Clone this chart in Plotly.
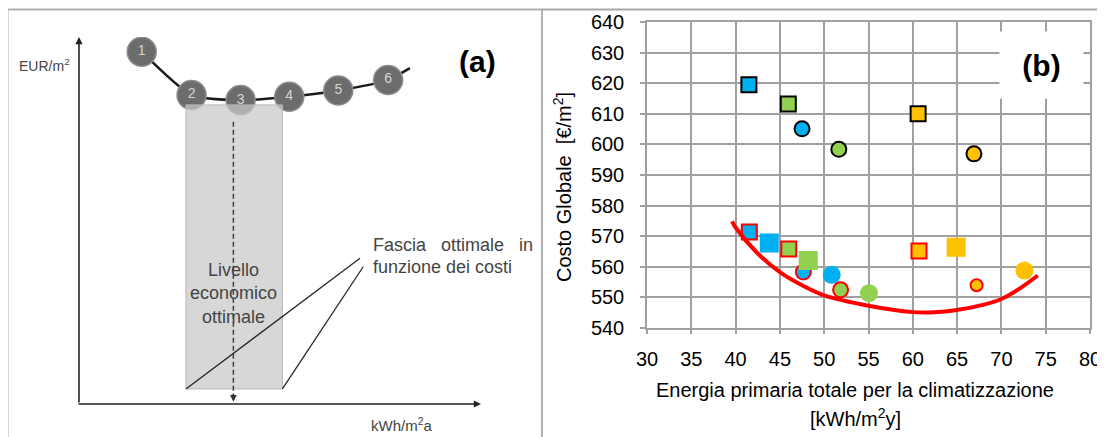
import plotly.graph_objects as go

# The page body adds an 8px offset, so the figure is drawn 8px smaller
# and every layout position is expressed in window pixels minus 8.
OFF = 8
W, H = 1105 - OFF, 437 - OFF
FONT = "Liberation Sans, Arial, sans-serif"

# ---------------- Panel (a): schematic cost-optimal curve ----------------
a_labels = ["1", "2", "3", "4", "5", "6"]
a_energy = [15.6, 28.0, 40.2, 52.3, 64.5, 76.9]
a_cost = [96.0, 84.2, 82.8, 83.7, 85.4, 88.3]
a_tail_energy = [82.3]
a_tail_cost = [91.5]
a_band = [26.6, 50.6]      # fascia ottimale in funzione dei costi
a_optimum = 38.4           # livello economico ottimale

# ---------------- Panel (b): costo globale vs energia primaria ----------------
# order inside each list: black outline, red outline, no outline
b_blue_sq_x = [41.5, 41.55, 43.8]
b_blue_sq_y = [619.5, 571.3, 567.7]
b_blue_ci_x = [47.5, 47.65, 50.85]
b_blue_ci_y = [605.1, 558.2, 557.3]
b_green_sq_x = [45.95, 46.0, 48.2]
b_green_sq_y = [613.2, 565.8, 562.0]
b_green_ci_x = [51.65, 51.85, 55.05]
b_green_ci_y = [598.4, 552.4, 551.3]
b_yellow_sq_x = [60.6, 60.7, 64.9]
b_yellow_sq_y = [610.0, 565.1, 566.3]
b_yellow_ci_x = [66.9, 67.2, 72.6]
b_yellow_ci_y = [596.9, 553.9, 558.7]

b_trend_x = [39.6, 40.0, 42.5, 45.0, 47.5, 50.0, 55.0, 60.0, 62.0, 65.0, 70.0, 74.1]
b_trend_y = [574.8, 572.8, 564.3, 558.2, 553.9, 550.6, 547.2, 545.1, 545.0, 545.8, 549.4, 557.1]

x_ticks = [30, 35, 40, 45, 50, 55, 60, 65, 70, 75, 80]
y_ticks = [540, 550, 560, 570, 580, 590, 600, 610, 620, 630, 640]

BLUE, GREEN, YELLOW, RED = "#00B0F0", "#92D050", "#FFC000", "#FF0000"


def px(x):
    return (x - OFF) / W


def py(y):
    return 1 - (y - OFF) / H


fig = go.Figure()

# ---- panel (a) traces
fig.add_trace(go.Scatter(
    x=a_energy + a_tail_energy, y=a_cost + a_tail_cost,
    xaxis="x2", yaxis="y2", mode="lines",
    line=dict(color="#1a1a1a", width=2.5, shape="spline", smoothing=0.6),
    hoverinfo="skip", showlegend=False))
fig.add_trace(go.Scatter(
    x=a_energy, y=a_cost, xaxis="x2", yaxis="y2", mode="markers+text",
    text=a_labels, textposition="middle center",
    textfont=dict(family=FONT, size=14, color="#d5d5d5"),
    marker=dict(size=29, color="#6c6c6c", line=dict(color="#8c8c8c", width=1.5)),
    hoverinfo="skip", showlegend=False))

# ---- panel (b) traces
line_cols = ["black", RED, "rgba(0,0,0,0)"]
line_w = [2, 2, 0]
sq_sizes = [15, 15, 19]
ci_sizes = [15, 15, 18]
groups = [
    (b_blue_sq_x, b_blue_sq_y, BLUE, "square", sq_sizes),
    (b_blue_ci_x, b_blue_ci_y, BLUE, "circle", ci_sizes),
    (b_green_sq_x, b_green_sq_y, GREEN, "square", sq_sizes),
    (b_green_ci_x, b_green_ci_y, GREEN, "circle", ci_sizes),
    (b_yellow_sq_x, b_yellow_sq_y, YELLOW, "square", sq_sizes),
    (b_yellow_ci_x, b_yellow_ci_y, YELLOW, "circle", [15, 12, 18]),
]
for gx, gy, col, sym, sizes in groups:
    fig.add_trace(go.Scatter(
        x=gx, y=gy, mode="markers", xaxis="x", yaxis="y",
        marker=dict(symbol=sym, color=col, size=sizes, opacity=1,
                    line=dict(color=line_cols, width=line_w)),
        showlegend=False))

fig.add_trace(go.Scatter(
    x=b_trend_x, y=b_trend_y, mode="lines", xaxis="x", yaxis="y",
    line=dict(color=RED, width=4, shape="spline", smoothing=1.0),
    showlegend=False))

# ---- shapes
shapes = [
    dict(type="rect", xref="paper", yref="paper", x0=px(7.5), x1=px(542),
         y0=-0.2, y1=py(9.5), line=dict(color="#b0b0b0", width=2), layer="below"),
    dict(type="line", xref="paper", yref="paper", x0=px(542), x1=1.05,
         y0=py(9.5), y1=py(9.5), line=dict(color="#a8a8a8", width=2)),
    dict(type="rect", xref="x2", yref="y2", x0=a_band[0], x1=a_band[1],
         y0=4.1, y1=81.5, fillcolor="rgba(200,200,200,0.72)",
         line=dict(color="#b8b8b8", width=1), layer="above"),
    dict(type="line", xref="x2", yref="y2", x0=a_optimum, x1=a_optimum,
         y0=76.9, y1=2.5, line=dict(color="#404040", width=1.5, dash="5px,3px"),
         layer="above"),
    dict(type="line", xref="x2", yref="y2", x0=a_band[0], y0=4.1, x1=69.9, y1=39.7,
         line=dict(color="#262626", width=1.3), layer="above"),
    dict(type="line", xref="x2", yref="y2", x0=a_band[1], y0=4.1, x1=70.7, y1=37.4,
         line=dict(color="#262626", width=1.3), layer="above"),
]


def label(x, y, text, size, color="black", xanchor="center", **kw):
    return dict(x=px(x), y=py(y), xref="paper", yref="paper", text=text,
                showarrow=False, xanchor=xanchor, yanchor="middle",
                font=dict(family=FONT, size=size, color=color), **kw)


gray_txt = "#444444"
annotations = [
    dict(x=100, y=0, ax=-0.5, ay=0, xref="x2", yref="y2", axref="x2", ayref="y2",
         text="", showarrow=True, arrowhead=2, arrowsize=0.9, arrowwidth=1.6,
         arrowcolor="#222"),
    dict(x=0, y=100, ax=0, ay=0, xref="x2", yref="y2", axref="x2", ayref="y2",
         text="", showarrow=True, arrowhead=2, arrowsize=0.9, arrowwidth=1.6,
         arrowcolor="#222"),
    dict(x=a_optimum, y=0.6, ax=a_optimum, ay=3.2, xref="x2", yref="y2",
         axref="x2", ayref="y2", text="", showarrow=True, arrowhead=2,
         arrowsize=0.9, arrowwidth=1.5, arrowcolor="#333"),
    label(72, 65, "EUR/m<sup>2</sup>", 14, gray_txt, xanchor="right"),
    label(402, 424, "kWh/m<sup>2</sup>a", 15, gray_txt),
    label(233, 293, "Livello<br>economico<br>ottimale", 18, gray_txt, align="center"),
    label(371, 245, "Fascia\u00a0\u00a0\u00a0ottimale\u00a0\u00a0\u00a0in", 18, gray_txt,
          xanchor="left"),
    label(371, 267, "funzione dei costi", 18, gray_txt, xanchor="left"),
    label(477, 61, "<b>(a)</b>", 30),
    label(1041.5, 65, "<b>(b)</b>", 30, width=81, height=64, bgcolor="white"),
    label(562, 187, "Costo Globale\u00a0 [€/m<sup>2</sup>]", 20, textangle=-90),
    label(855, 390, "Energia primaria totale per la climatizzazione", 20),
    label(855, 417, "[kWh/m<sup>2</sup>y]", 20),
]

GRID = "#a0a0a0"
axis_common = dict(showgrid=True, gridcolor=GRID, gridwidth=1.5,
                   showline=True, linecolor=GRID, linewidth=1.5, mirror=True,
                   ticks="outside", ticklen=5, tickcolor=GRID, tickwidth=1.5,
                   zeroline=False, automargin=False,
                   tickfont=dict(family=FONT, size=20, color="black"))
fig.update_layout(
    width=W, height=H,
    margin=dict(l=0, r=0, t=0, b=0, pad=0, autoexpand=False),
    paper_bgcolor="white", plot_bgcolor="white", showlegend=False,
    font=dict(family=FONT, color="black"),
    xaxis=dict(domain=[px(647), px(1090)], range=[30, 80], tickvals=x_ticks,
               ticklabelstandoff=8, anchor="y", **axis_common),
    yaxis=dict(domain=[py(327.7), py(22.2)], range=[540, 640], tickvals=y_ticks,
               ticklabelstandoff=12, anchor="x", **axis_common),
    xaxis2=dict(domain=[px(79), px(481)], range=[0, 100], visible=False,
                anchor="y2", automargin=False),
    yaxis2=dict(domain=[py(404), py(37)], range=[0, 100], visible=False,
                anchor="x2", automargin=False),
    shapes=shapes, annotations=annotations,
)

fig.write_html("out.html")
